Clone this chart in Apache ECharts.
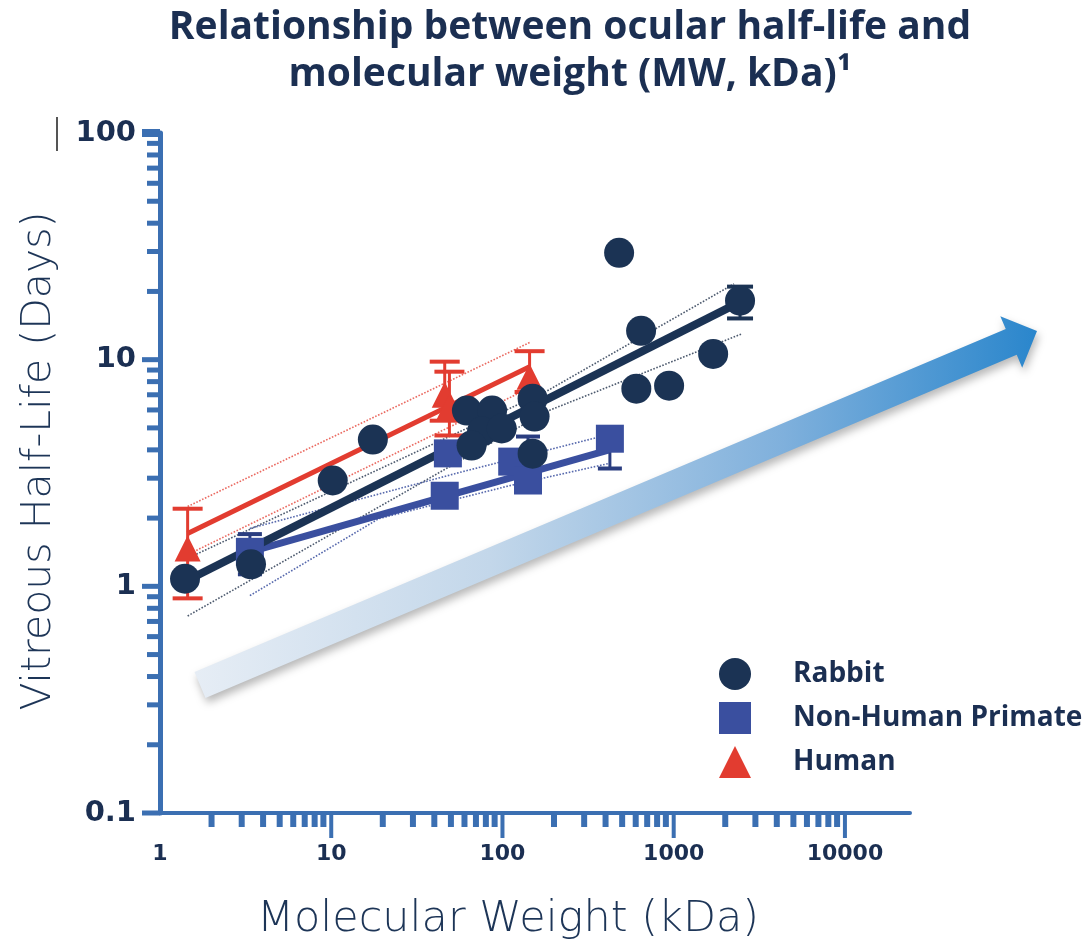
<!DOCTYPE html>
<html><head><meta charset="utf-8">
<script src="https://cdn.jsdelivr.net/npm/echarts@6/dist/echarts.min.js"></script>
<style>html,body{margin:0;padding:0;background:#fff}#c{width:1089px;height:946px}</style>
</head><body><div id="c"></div>
<script>
// ---- data (MW in kDa, half-life in days) ----
const rabbitMW = [1.4, 3.4, 10.2, 17.5, 62, 87, 76, 66, 99, 150, 154, 150, 480, 645, 605, 940, 1700, 2440];
const rabbitHL = [1.08, 1.25, 2.93, 4.44, 5.96, 5.96, 4.82, 4.18, 4.97, 6.73, 5.61, 3.85, 29.6, 13.4, 7.45, 7.68, 10.6, 18.2];
const rabbitErrMW = [2440];
const rabbitErrLo = [15.2];
const rabbitErrHi = [21.0];

const nhpMW = [3.35, 46, 48, 114, 141, 424];
const nhpHL = [1.42, 2.51, 3.86, 3.55, 2.93, 4.48];
const nhpErrMW = [3.35, 141, 424];
const nhpErrLo = [1.13, 2.65, 3.31];
const nhpErrHi = [1.70, 4.58, 5.0];

const humanMW = [1.45, 46, 49, 144];
const humanHL = [1.47, 7.0, 6.2, 8.4];
const humanErrLo = [0.885, 5.38, 4.63, 7.2];
const humanErrHi = [2.2, 9.8, 8.85, 10.9];

// regression fits and confidence bands
const rabbitFitMW = [1.4, 2450];
const rabbitFitHL = [1.05, 18.0];
const rabbitUpMW = [1.45, 180, 2250];
const rabbitUpHL = [1.33, 7.24, 21.6];
const rabbitLoMW = [1.45, 180, 2500];
const rabbitLoHL = [0.74, 5.9, 13.0];

const nhpFitMW = [3.35, 420];
const nhpFitHL = [1.42, 4.0];
const nhpUpMW = [3.35, 58, 430];
const nhpUpHL = [1.8, 3.2, 4.7];
const nhpLoMW = [3.35, 19, 110, 430];
const nhpLoHL = [0.91, 1.99, 2.78, 3.5];

const humanFitMW = [1.45, 144];
const humanFitHL = [1.71, 9.3];
const humanUpMW = [1.45, 144];
const humanUpHL = [2.25, 11.9];
const humanLoMW = [1.45, 144];
const humanLoHL = [1.38, 7.5];

// axes
const xMajor = [1, 10, 100, 1000, 10000];
const yMajor = [0.1, 1, 10, 100];
const xLabels = ['1', '10', '100', '1000', '10000'];
const yLabels = ['0.1', '1', '10', '100'];
const minorMult = [2, 3, 4, 5, 6, 7, 8, 9];

const X_MIN = 1, X_MAX = Math.pow(10, 4.38), Y_MIN = 0.1, Y_MAX = 100;

const NAVY = '#1b3354', NHPC = '#3a4f9f', RED = '#e23c30', AXIS = '#3b6fb2', TXT = '#1b2f52';

const pairs = (xs, ys) => xs.map((x, i) => [x, ys[i]]);

const xTicks = [];
xMajor.forEach(d => { if (d > 1) xTicks.push([d, Y_MIN, 1]); if (d < 10000) minorMult.forEach(m => xTicks.push([m * d, Y_MIN, 0])); });
const yTicks = [];
yMajor.forEach(d => { yTicks.push([X_MIN, d, d === 100 ? 2 : 1]); if (d < 100) minorMult.forEach(m => yTicks.push([X_MIN, m * d, 0])); });

function tickSeries(axis, data) {
  return {
    type: 'custom', silent: true, clip: false, z: 3, data,
    renderItem(params, api) {
      const p = api.coord([api.value(0), api.value(1)]);
      const kind = api.value(2);
      if (axis === 'x') {
        const w = kind ? 4 : 6, h = kind ? 24 : 13;
        return { type: 'rect', shape: { x: p[0] - w / 2, y: p[1] + 1, width: w, height: h }, style: { fill: AXIS } };
      }
      const len = kind ? 18 : 13, t = kind === 2 ? 8 : 5;
      return { type: 'rect', shape: { x: p[0] - len, y: p[1] - t / 2, width: len, height: t }, style: { fill: AXIS } };
    }
  };
}

function errSeries(name, xs, lo, hi, color, cap, width, z) {
  return {
    type: 'custom', name, z, clip: false,
    data: xs.map((x, i) => [x, lo[i], hi[i]]),
    encode: { x: 0, y: [1, 2] },
    renderItem(params, api) {
      const a = api.coord([api.value(0), api.value(1)]);
      const b = api.coord([api.value(0), api.value(2)]);
      const style = { stroke: color, lineWidth: width };
      return { type: 'group', children: [
        { type: 'line', shape: { x1: a[0], y1: a[1], x2: b[0], y2: b[1] }, style },
        { type: 'line', shape: { x1: a[0] - cap, y1: a[1], x2: a[0] + cap, y2: a[1] }, style: { stroke: color, lineWidth: width + 1 } },
        { type: 'line', shape: { x1: b[0] - cap, y1: b[1], x2: b[0] + cap, y2: b[1] }, style: { stroke: color, lineWidth: width + 1 } }
      ] };
    }
  };
}

function lineSeries(name, xs, ys, color, width, type, z, opacity) {
  return {
    type: 'line', name, data: pairs(xs, ys), symbol: 'none', silent: true, z,
    lineStyle: { color, width, type, opacity: opacity == null ? 1 : opacity }
  };
}

// decorative arrow
const T = [1037, 331], u = [0.920, -0.391], n = [0.391, 0.920];
const S = [200, 685];
const B = [T[0] - 28 * u[0], T[1] - 28 * u[1]];
const P = (c, k) => [c[0] + k * n[0], c[1] + k * n[1]];
const arrowPts = [P(S, -14), P(B, -14), P(B, -28), T, P(B, 28), P(B, 14), P(S, 14)];

const chart = echarts.init(document.getElementById('c'));
chart.setOption({
  animation: false,
  backgroundColor: '#ffffff',
  title: {
    text: 'Relationship between ocular half-life and\nmolecular weight (MW, kDa)¹',
    left: 570, textAlign: 'center', top: 4, padding: 0,
    textStyle: { fontFamily: 'Open Sans', fontWeight: 'bold', fontSize: 39, lineHeight: 47, color: TXT }
  },
  grid: { left: 160, right: 179, top: 133, bottom: 131 },
  legend: {
    orient: 'vertical', left: 714, top: 653, itemWidth: 32, itemHeight: 32, itemGap: 12,
    data: [
      { name: 'Rabbit', icon: 'circle' },
      { name: 'Non-Human Primate', icon: 'rect' },
      { name: 'Human', icon: 'triangle' }
    ],
    textStyle: { fontFamily: 'Open Sans', fontWeight: 'bold', fontSize: 28, color: TXT, padding: [0, 0, 0, 37] }
  },
  xAxis: {
    type: 'log', logBase: 10, min: X_MIN, max: X_MAX,
    name: 'Molecular Weight (kDa)', nameLocation: 'middle', nameGap: 85,
    nameTextStyle: { fontFamily: 'DejaVu Sans', fontWeight: 300, fontSize: 43, color: '#1d3557', padding: [0, 54, 0, 0] },
    axisLine: { lineStyle: { color: AXIS, width: 4 } },
    axisTick: { show: false }, splitLine: { show: false },
    axisLabel: { margin: 30, showMaxLabel: false, fontFamily: 'DejaVu Sans', fontWeight: 'bold', fontSize: 22, color: TXT,
      formatter: v => { const i = xMajor.indexOf(v); return i >= 0 ? xLabels[i] : ''; } }
  },
  yAxis: {
    type: 'log', logBase: 10, min: Y_MIN, max: Y_MAX,
    name: 'Vitreous Half-Life (Days)', nameLocation: 'middle', nameGap: 100, nameRotate: 90,
    nameTextStyle: { fontFamily: 'DejaVu Sans', fontWeight: 300, fontSize: 41, color: '#1d3557', padding: [0, 0, 0, 24] },
    axisLine: { lineStyle: { color: AXIS, width: 5 } },
    axisTick: { show: false }, splitLine: { show: false },
    axisLabel: { margin: 24, fontFamily: 'DejaVu Sans', fontWeight: 'bold', fontSize: 29, color: TXT,
      formatter: v => { const i = yMajor.findIndex(m => Math.abs(m - v) < 1e-9); return i >= 0 ? yLabels[i] : ''; } }
  },
  graphic: [
    { type: 'polygon', z: -1, silent: true, shape: { points: arrowPts },
      style: {
        fill: { type: 'linear', x: 195, y: 0, x2: 1037, y2: 0, global: true,
          colorStops: [ { offset: 0, color: '#e6edf5' }, { offset: 0.35, color: '#c3d7ea' }, { offset: 0.7, color: '#7fb0dc' }, { offset: 1, color: '#2a86cc' } ] },
        shadowBlur: 8, shadowColor: 'rgba(0,0,0,0.28)', shadowOffsetX: 2, shadowOffsetY: 5
      } },
    { type: 'line', silent: true, shape: { x1: 57, y1: 117, x2: 57, y2: 151 }, style: { stroke: '#555', lineWidth: 2 } }
  ],
  series: [
    tickSeries('x', xTicks),
    tickSeries('y', yTicks),
    lineSeries('Rabbit upper CI', rabbitUpMW, rabbitUpHL, '#2e3d55', 1.6, 'dotted', 4, 0.85),
    lineSeries('Rabbit lower CI', rabbitLoMW, rabbitLoHL, '#2e3d55', 1.6, 'dotted', 4, 0.85),
    lineSeries('NHP upper CI', nhpUpMW, nhpUpHL, NHPC, 1.6, 'dotted', 4, 0.85),
    lineSeries('NHP lower CI', nhpLoMW, nhpLoHL, NHPC, 1.6, 'dotted', 4, 0.85),
    lineSeries('Human upper CI', humanUpMW, humanUpHL, '#e8594f', 1.6, 'dotted', 4, 0.9),
    lineSeries('Human lower CI', humanLoMW, humanLoHL, '#e8594f', 1.6, 'dotted', 4, 0.9),
    lineSeries('NHP fit', nhpFitMW, nhpFitHL, NHPC, 7, 'solid', 5),
    lineSeries('Rabbit fit', rabbitFitMW, rabbitFitHL, NAVY, 8, 'solid', 5),
    lineSeries('Human fit', humanFitMW, humanFitHL, RED, 5, 'solid', 5),
    errSeries('NHP SD', nhpErrMW, nhpErrLo, nhpErrHi, '#2a3d80', 12, 3, 6),
    errSeries('Rabbit SD', rabbitErrMW, rabbitErrLo, rabbitErrHi, NAVY, 13, 3, 6),
    { type: 'scatter', name: 'Non-Human Primate', symbol: 'rect', symbolSize: 28, z: 7,
      itemStyle: { color: NHPC, opacity: 1 }, data: pairs(nhpMW, nhpHL) },
    errSeries('Human SD', humanMW, humanErrLo, humanErrHi, RED, 15, 3, 8),
    { type: 'scatter', name: 'Human', symbol: 'triangle', symbolSize: 26, z: 8,
      itemStyle: { color: RED, opacity: 1 }, data: pairs(humanMW, humanHL) },
    { type: 'scatter', name: 'Rabbit', symbol: 'circle', symbolSize: 30, z: 9,
      itemStyle: { color: NAVY, opacity: 1 }, data: pairs(rabbitMW, rabbitHL) }
  ]
});
</script></body></html>
